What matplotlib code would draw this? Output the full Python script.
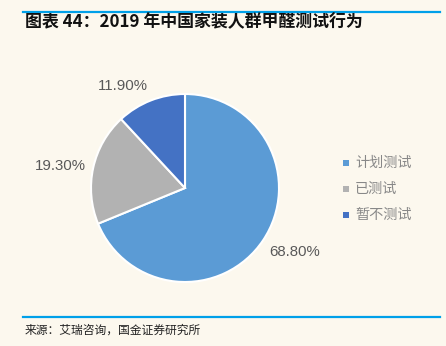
import numpy as np
import matplotlib
matplotlib.use("Agg")
import matplotlib.pyplot as plt
from matplotlib.lines import Line2D
from matplotlib.patches import Rectangle

plt.rcParams['font.family'] = ['Noto Sans CJK SC', 'DejaVu Sans']

# Data
categories = ['计划测试', '已测试', '暂不测试']
shares = [68.80, 19.30, 11.90]
colors = ['#5B9BD5', '#B2B2B2', '#4472C4']
title = '图表 44：2019 年中国家装人群甲醛测试行为'
source = '来源：艾瑞咨询，国金证券研究所'

BG = '#FCF8EE'
W, H = 446, 346
fig = plt.figure(figsize=(W / 100, H / 100), dpi=100, facecolor=BG)

# Header / footer rules
fig.add_artist(Line2D([23 / W, 440 / W], [1 - 12 / H, 1 - 12 / H],
                      color='#00A0E9', lw=1.6))
fig.add_artist(Line2D([23 / W, 440 / W], [1 - 317 / H, 1 - 317 / H],
                      color='#00A0E9', lw=1.6))
fig.text(25 / W, 1 - 22 / H, title, fontsize=12.2, fontweight='bold',
         fontstyle='italic', color='#111111', ha='left', va='center')
fig.text(25 / W, 1 - 330 / H, source, fontsize=8.5, color='#222222',
         ha='left', va='center')

# Pie
cx, cy, r = 185, 188, 94
ax = fig.add_axes([(cx - r) / W, 1 - (cy + r) / H, 2 * r / W, 2 * r / H])
ax.set_facecolor(BG)
wedges, _ = ax.pie(shares, colors=colors, startangle=90, counterclock=False,
                   radius=1.0,
                   wedgeprops=dict(edgecolor='white', linewidth=1.5))
ax.set_xlim(-1, 1)
ax.set_ylim(-1, 1)
ax.set_aspect('auto')
ax.axis('off')

# Percentage labels just outside each wedge
for w, v in zip(wedges, shares):
    ang = np.deg2rad((w.theta1 + w.theta2) / 2)
    c, s = np.cos(ang), np.sin(ang)
    ha = 'left' if c > 0.3 else ('right' if c < -0.3 else 'center')
    va = 'bottom' if s > 0.3 else ('top' if s < -0.3 else 'center')
    ax.text(1.08 * c, 1.08 * s, f'{v:.2f}%', ha=ha, va=va, fontsize=10.8,
            color='#595959', family=['Liberation Sans', 'DejaVu Sans'],
            clip_on=False)

# Legend
for i, (lab, col) in enumerate(zip(categories, colors)):
    y = 1 - (163 + 26 * i) / H
    fig.add_artist(Rectangle((343 / W, y - 2.7 / H), 5.5 / W, 5.5 / H,
                             facecolor=col, edgecolor='none',
                             transform=fig.transFigure))
    fig.text(355 / W, y, lab, fontsize=10.2, color='#888888',
             ha='left', va='center')

fig.savefig('out.png', dpi=100, facecolor=BG)
